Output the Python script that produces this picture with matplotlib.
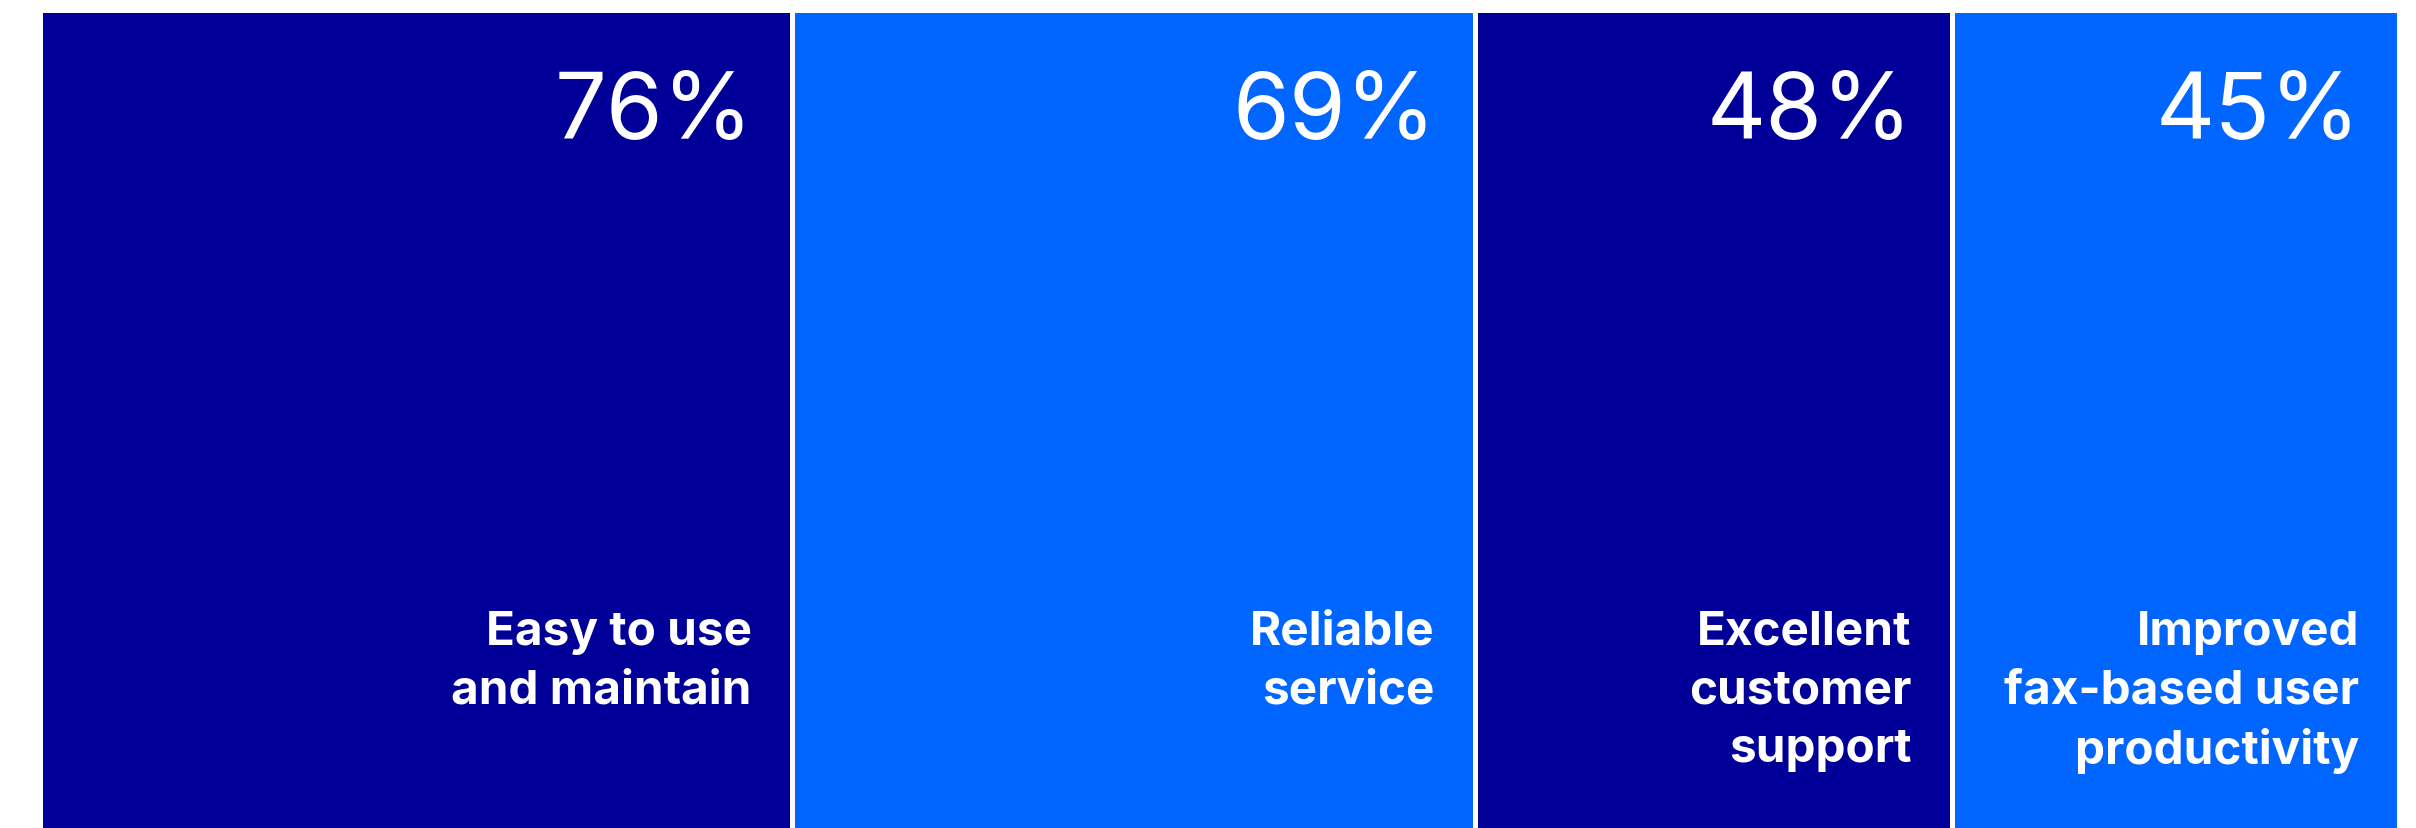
import matplotlib.pyplot as plt

# Valori del grafico
categorie = ["Easy to use\nand maintain", "Reliable\nservice", "Excellent\ncustomer\nsupport",
             "Improved\nfax-based user\nproductivity"]
valori = [76, 69, 48, 45]
colori = ["#000099", "#0066FF", "#000099", "#0066FF"]

W, H = 2416, 829
gap = 0.5  # spazio bianco fra le colonne (unita' dati)

fig = plt.figure(figsize=(W / 100, H / 100), dpi=100)
ax = fig.add_axes([42.7 / W, 0, (2397 - 42.7) / W, (H - 14) / H])

# larghezza proporzionale al valore (tipo marimekko)
sinistra = []
x = 0
for v in valori:
    sinistra.append(x)
    x += v + gap
totale = x - gap

ax.bar(sinistra, [1] * len(valori), width=valori, align="edge", color=colori, linewidth=0)
ax.set_xlim(0, totale)
ax.set_ylim(0, 1)
ax.axis("off")

for s, v, cat in zip(sinistra, valori, categorie):
    destra = s + v
    ax.annotate(f"{v}%", xy=(destra, H - 139), xycoords=("data", "figure pixels"),
                xytext=(-37 * 0.72, 0), textcoords="offset points",
                ha="right", va="baseline", color="white",
                fontsize=66, family="Inter", fontweight="normal")
    ax.annotate(cat, xy=(destra, H - 611), xycoords=("data", "figure pixels"),
                xytext=(-38 * 0.72, 0), textcoords="offset points",
                ha="right", va="top", color="white", linespacing=1.42,
                fontsize=34.3, family="Inter", fontweight="bold")

fig.savefig("out.png", dpi=100)
